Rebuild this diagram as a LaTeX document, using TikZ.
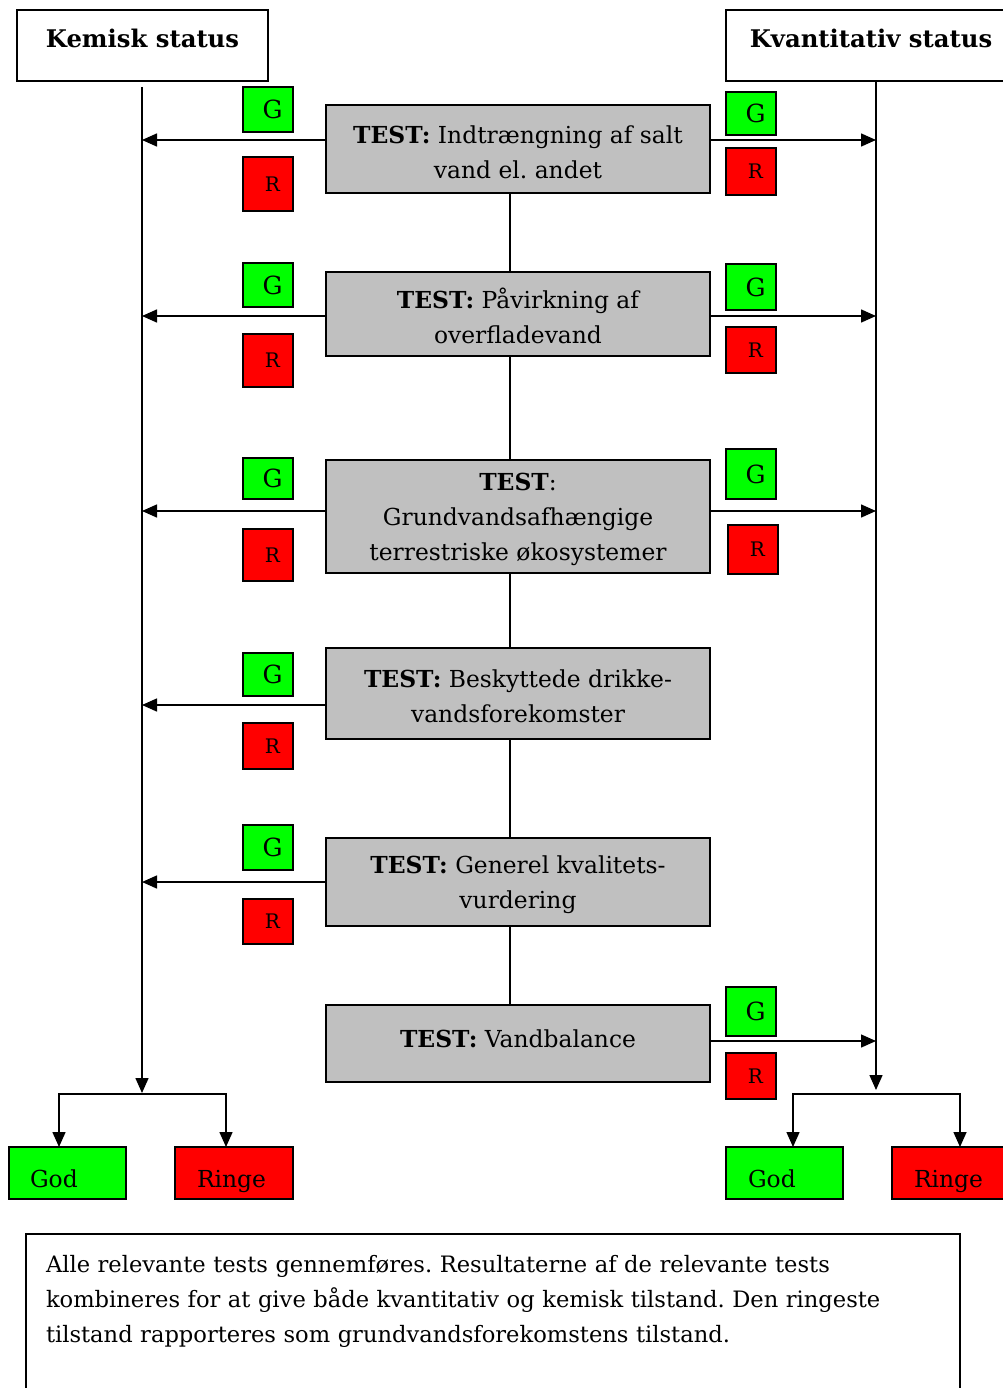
\documentclass[tikz,border=0pt]{standalone}
\usepackage{fontspec}
\setmainfont{DejaVu Serif}
\usetikzlibrary{arrows.meta,positioning}
\definecolor{boxgray}{HTML}{C0C0C0}
\definecolor{okgreen}{HTML}{00FF00}
\definecolor{badred}{HTML}{FF0000}
\frenchspacing
\begin{document}
\begin{tikzpicture}[x=1pt,y=-1pt,
  every node/.style={inner sep=0pt, outer sep=0pt},
  txt/.style={font=\fontsize{23.4}{35}\selectfont},
  notetxt/.style={font=\fontsize{22.6}{35}\selectfont},
  arr/.style={line width=1.5pt, -{Triangle[length=15pt,width=13pt]}},
  ln/.style={line width=1.5pt},
  titlebox/.style={draw, line width=1.5pt, fill=white, font=\fontsize{24.3}{30}\selectfont\bfseries, text height=22pt, text depth=17pt},
  testbox/.style={draw, line width=1.5pt, fill=boxgray, minimum width=384pt, align=center, txt},
  gsq/.style={draw, line width=1.5pt, fill=okgreen, minimum width=50pt, font=\fontsize{25}{28}\selectfont},
  rsq/.style={draw, line width=1.5pt, fill=badred, minimum width=50pt, font=\fontsize{20}{28}\selectfont},
  resg/.style={draw, line width=1.5pt, fill=okgreen, minimum width=117pt, minimum height=52pt, txt, text height=33pt, text depth=5pt},
  resr/.style={draw, line width=1.5pt, fill=badred, minimum width=118pt, minimum height=52pt, txt, text height=33pt, text depth=5pt}
]
\useasboundingbox (0,0) rectangle (1002,1388);

% titles
\node[titlebox, minimum width=251pt, minimum height=71pt] (kem) at (142.5,45.5) {Kemisk status};
\node[titlebox, minimum width=290pt, minimum height=71pt] (kva) at (871,45.5) {Kvantitativ status};

% main vertical lines
\coordinate (ktop) at (142,87);
\coordinate (kbot) at (142,1093);
\coordinate (qtop) at (876,81);
\coordinate (qbot) at (876,1090);
\draw[arr] (ktop) -- (kbot);
\draw[arr] (qtop) -- (qbot);

% test boxes
\node[testbox, minimum height=88pt] (t1) at (518,149) {\rule{0pt}{24pt}\textbf{TEST:} Indtrængning af salt\\vand el. andet};
\node[testbox, minimum height=84pt] (t2) at (518,314) {\rule{0pt}{24pt}\textbf{TEST:} Påvirkning af\\overfladevand};
\node[testbox, minimum height=113pt] (t3) at (518,516.5) {\rule{0pt}{24pt}\textbf{TEST}:\\Grundvandsafhængige\\terrestriske økosystemer};
\node[testbox, minimum height=91pt] (t4) at (518,693.5) {\rule{0pt}{24pt}\textbf{TEST:} Beskyttede drikke-\\vandsforekomster};
\node[testbox, minimum height=88pt] (t5) at (518,882) {\rule{0pt}{24pt}\textbf{TEST:} Generel kvalitets-\\vurdering};
\node[testbox, minimum height=77pt, text depth=10pt] (t6) at (518,1043.5) {\textbf{TEST:} Vandbalance};

% spine between test boxes
\foreach \a/\b in {t1/t2,t2/t3,t3/t4,t4/t5,t5/t6}{
  \draw[ln] ([xshift=-8pt]\a.south) -- ([xshift=-8pt]\b.north);
}

% arrows to chemical status
\draw[arr] ([yshift=9pt]t1.west) -- ([yshift=9pt]t1.west -| ktop);
\draw[arr] ([yshift=-2pt]t2.west) -- ([yshift=-2pt]t2.west -| ktop);
\draw[arr] ([yshift=5.5pt]t3.west) -- ([yshift=5.5pt]t3.west -| ktop);
\draw[arr] ([yshift=-11.5pt]t4.west) -- ([yshift=-11.5pt]t4.west -| ktop);
\draw[arr] (t5.west) -- (t5.west -| ktop);

% arrows to quantitative status
\draw[arr] ([yshift=9pt]t1.east) -- ([yshift=9pt]t1.east -| qtop);
\draw[arr] ([yshift=-2pt]t2.east) -- ([yshift=-2pt]t2.east -| qtop);
\draw[arr] ([yshift=5.5pt]t3.east) -- ([yshift=5.5pt]t3.east -| qtop);
\draw[arr] ([yshift=2.5pt]t6.east) -- ([yshift=2.5pt]t6.east -| qtop);

% left G/R
\node[gsq, minimum height=45pt] (gl1) at (268,109.5) {\hspace*{9pt}G};
\node[rsq, minimum height=54pt] (rl1) at (268,184) {\hspace*{9pt}\raisebox{-5pt}{R}};
\node[gsq, minimum height=44pt] (gl2) at (268,285) {\hspace*{9pt}G};
\node[rsq, minimum height=53pt] (rl2) at (268,360.5) {\hspace*{9pt}\raisebox{-4pt}{R}};
\node[gsq, minimum height=41pt] (gl3) at (268,478.5) {\hspace*{9pt}G};
\node[rsq, minimum height=52pt] (rl3) at (268,555) {\hspace*{9pt}\raisebox{-4pt}{R}};
\node[gsq, minimum height=43pt] (gl4) at (268,674.5) {\hspace*{9pt}G};
\node[rsq, minimum height=46pt] (rl4) at (268,746) {\hspace*{9pt}\raisebox{-5pt}{R}};
\node[gsq, minimum height=45pt] (gl5) at (268,847.5) {\hspace*{9pt}G};
\node[rsq, minimum height=45pt] (rl5) at (268,921.5) {\hspace*{9pt}R};

% right G/R
\node[gsq, minimum height=43pt] (gr1) at (751,113.5) {\hspace*{9pt}G};
\node[rsq, minimum height=47pt] (rr1) at (751,171.5) {\hspace*{9pt}\raisebox{-4pt}{R}};
\node[gsq, minimum height=46pt] (gr2) at (751,287) {\hspace*{9pt}G};
\node[rsq, minimum height=46pt] (rr2) at (751,350) {\hspace*{9pt}\raisebox{-4pt}{R}};
\node[gsq, minimum height=50pt] (gr3) at (751,474) {\hspace*{9pt}G};
\node[rsq, minimum height=49pt] (rr3) at (753,549.5) {\hspace*{9pt}R};
\node[gsq, minimum height=49pt] (gr6) at (751,1011.5) {\hspace*{9pt}\raisebox{-4pt}{G}};
\node[rsq, minimum height=46pt] (rr6) at (751,1076) {\hspace*{9pt}R};

% results
\node[resg] (godk) at (67.5,1173) {\makebox[117pt][l]{\hspace*{21pt}God}};
\node[resr] (rink) at (234,1173) {\makebox[118pt][l]{\hspace*{22pt}Ringe}};
\node[resg] (godq) at (784.5,1173) {\makebox[117pt][l]{\hspace*{22pt}God}};
\node[resr] (rinq) at (951,1173) {\makebox[118pt][l]{\hspace*{22pt}Ringe}};

\coordinate (kbr) at (142,1094);
\coordinate (qbr) at (876,1094);
\draw[arr] (kbr) -| ([xshift=-8.5pt]godk.north);
\draw[arr] (kbr) -| ([xshift=-8pt]rink.north);
\draw[arr] (qbr) -| ([xshift=8.5pt]godq.north);
\draw[arr] (qbr) -| ([xshift=9pt]rinq.north);

% note box
\node[draw, line width=1.5pt, anchor=north west, text width=894pt, inner xsep=20pt, inner ysep=21pt, align=left, notetxt] (note) at (26,1234)
{Alle relevante tests gennemføres. Resultaterne af de relevante tests\\kombineres for at give både kvantitativ og kemisk tilstand. Den ringeste\\tilstand rapporteres som grundvandsforekomstens tilstand.\\ \strut\\ \strut};
\end{tikzpicture}
\end{document}
